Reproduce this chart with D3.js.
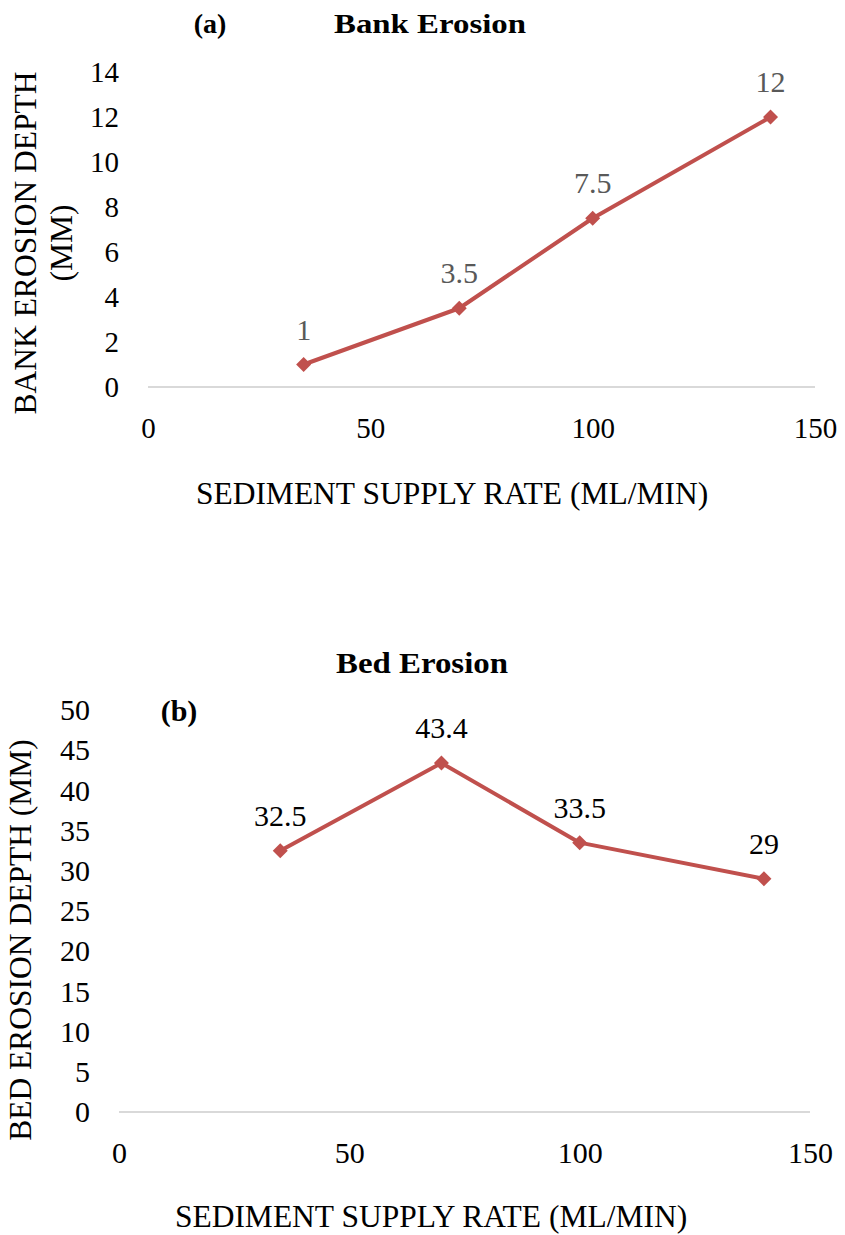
<!DOCTYPE html>
<html>
<head>
<meta charset="utf-8">
<script src="https://cdn.jsdelivr.net/npm/d3@7"></script>
<style>
  html, body { margin: 0; padding: 0; background: #ffffff; }
  svg { display: block; }
  text { font-family: "Liberation Serif", "Times New Roman", "DejaVu Serif", serif; }
</style>
</head>
<body>
<svg id="chart" width="845" height="1235"></svg>
<script>
// ---- data ----
const rates = [35, 70, 100, 140];
const bankDepth = [1, 3.5, 7.5, 12];
const bedDepth = [32.5, 43.4, 33.5, 29];
const xTicks = [0, 50, 100, 150];
const bankTicks = [0, 2, 4, 6, 8, 10, 12, 14];
const bedTicks = [0, 5, 10, 15, 20, 25, 30, 35, 40, 45, 50];

const lineColor = "#C0504D";
const serif = "Liberation Serif, Times New Roman, DejaVu Serif, serif";
const svg = d3.select("#chart");

function panel(cfg) {
  const g = svg.append("g").attr("font-family", serif);
  const x = d3.scaleLinear().domain([0, 150]).range([cfg.x0, cfg.x1]);
  const y = d3.scaleLinear().domain([0, cfg.yMax]).range([cfg.yb, cfg.yt]);

  // baseline gridline at zero
  g.append("line")
    .attr("x1", x(0)).attr("x2", x(150))
    .attr("y1", y(0)).attr("y2", y(0))
    .attr("stroke", "#d9d9d9").attr("stroke-width", 2);

  // y axis
  const ya = g.append("g").attr("transform", `translate(${x(0)},0)`)
    .call(d3.axisLeft(y).tickValues(cfg.yTicks).tickSize(0).tickPadding(29).tickFormat(d3.format("d")));
  ya.attr("font-family", serif);
  ya.select(".domain").remove();
  ya.selectAll("text").attr("font-size", cfg.tickFont).attr("fill", "#000");

  // x axis
  const xa = g.append("g").attr("transform", `translate(0,${y(0)})`)
    .call(d3.axisBottom(x).tickValues(xTicks).tickSize(0).tickPadding(cfg.xPad).tickFormat(d3.format("d")));
  xa.attr("font-family", serif);
  xa.select(".domain").remove();
  xa.selectAll("text").attr("font-size", cfg.tickFont).attr("fill", "#000");

  // line
  const pts = rates.map((r, i) => [r, cfg.values[i]]);
  g.append("path").datum(pts)
    .attr("fill", "none").attr("stroke", lineColor).attr("stroke-width", 4)
    .attr("stroke-linejoin", "round")
    .attr("d", d3.line().x(d => x(d[0])).y(d => y(d[1])));

  // diamond markers
  const m = 7.5;
  g.selectAll(".mk").data(pts).enter().append("path")
    .attr("transform", d => `translate(${x(d[0])},${y(d[1])})`)
    .attr("d", `M0,${-m}L${m},0L0,${m}L${-m},0Z`)
    .attr("fill", lineColor);

  // data labels
  g.selectAll(".lbl").data(pts).enter().append("text")
    .attr("x", d => x(d[0])).attr("y", d => y(d[1]) - 25)
    .attr("text-anchor", "middle").attr("font-size", cfg.labelFont)
    .attr("fill", cfg.labelColor)
    .text(d => String(d[1]));

  // title
  g.append("text").attr("x", cfg.titleX).attr("y", cfg.titleY)
    .attr("text-anchor", "middle").attr("font-weight", "bold")
    .attr("font-size", cfg.titleFont)
    .attr("textLength", cfg.titleLen).attr("lengthAdjust", "spacingAndGlyphs")
    .text(cfg.title);
  g.append("text").attr("x", cfg.tagX).attr("y", cfg.tagY)
    .attr("text-anchor", "middle").attr("font-weight", "bold")
    .attr("font-size", cfg.titleFont)
    .text(cfg.tag);

  // x axis title
  g.append("text").attr("x", cfg.xTitleX).attr("y", cfg.xTitleY)
    .attr("text-anchor", "middle").attr("font-size", cfg.axisFont)
    .text("SEDIMENT SUPPLY RATE (ML/MIN)");

  // y axis title (rotated)
  cfg.yTitleLines.forEach((t, i) => {
    g.append("text")
      .attr("transform", `translate(${cfg.yTitleBase[i]},${cfg.yTitleC}) rotate(-90)`)
      .attr("text-anchor", "middle").attr("font-size", cfg.axisFont)
      .text(t);
  });
}

panel({
  x0: 148, x1: 815, yb: 387, yt: 72, yMax: 14, yTicks: bankTicks,
  values: bankDepth, tickFont: 29, xPad: 30, labelFont: 30, labelColor: "#595959",
  title: "Bank Erosion", titleX: 430, titleY: 33, titleFont: 28, titleLen: 192,
  tag: "(a)", tagX: 210, tagY: 33,
  axisFont: 31.5, xTitleX: 452, xTitleY: 504,
  yTitleLines: ["BANK EROSION DEPTH", "(MM)"], yTitleBase: [36, 72], yTitleC: 243
});

panel({
  x0: 119, x1: 810, yb: 1112, yt: 710, yMax: 50, yTicks: bedTicks,
  values: bedDepth, tickFont: 30, xPad: 30, labelFont: 30, labelColor: "#000",
  title: "Bed Erosion", titleX: 422, titleY: 673, titleFont: 30, titleLen: 172,
  tag: "(b)", tagX: 179, tagY: 721,
  axisFont: 31.5, xTitleX: 431, xTitleY: 1227,
  yTitleLines: ["BED EROSION DEPTH (MM)"], yTitleBase: [31], yTitleC: 940
});
</script>
</body>
</html>
